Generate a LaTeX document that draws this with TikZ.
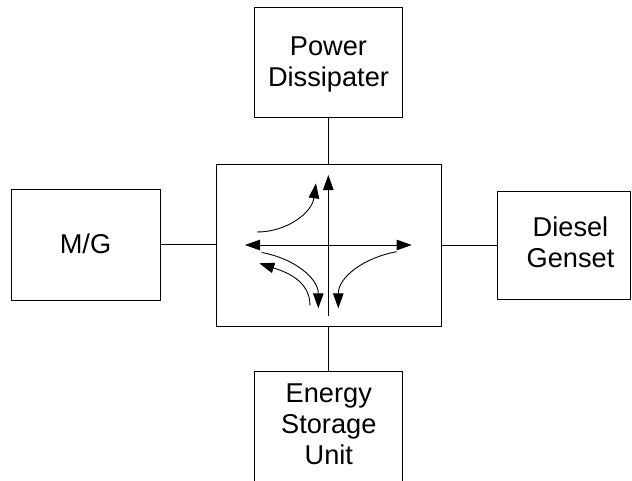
\documentclass[tikz,border=0pt]{standalone}
\usepackage{fontspec}
\setmainfont{Liberation Sans}
\usetikzlibrary{arrows.meta}
\begin{document}
\begin{tikzpicture}[x=1pt,y=-1pt,
  every path/.style={line width=0.9pt},
  box/.style={draw, line width=0.9pt, rectangle, inner sep=0pt},
  lbl/.style={anchor=base, inner sep=0pt, font=\fontsize{27.2}{31}\selectfont},
  tip/.style={-{Triangle[length=15pt,width=10.5pt]}},
  conn/.style={draw, line width=0.9pt}]
\useasboundingbox (0,0) rectangle (632,480);
% boxes
\node[box, minimum width=148pt, minimum height=110.4pt] (pd) at (328.3,62.5) {};
\node[box, minimum width=148.3pt, minimum height=110.7pt] (mg) at (85.85,244.65) {};
\node[box, minimum width=133.4pt, minimum height=108pt] (dg) at (564,245) {};
\node[box, minimum width=148pt, minimum height=120pt] (esu) at (328.3,431.7) {};
\node[box, minimum width=225pt, minimum height=162pt] (cv) at (328.5,245) {};
% labels
\node[lbl] (t1) at (328.5,55) {Power};
\node[lbl] (t2) at (328.5,86.7) {Dissipater};
\node[lbl] (t3) at (85.5,253.5) {M/G};
\node[lbl] (t4) at (570.5,236.7) {Diesel};
\node[lbl] (t5) at (570.5,267.7) {Genset};
\node[lbl] (t6) at (328.8,402.3) {Energy};
\node[lbl] (t7) at (328.8,433.3) {Storage};
\node[lbl] (t8) at (328.8,464.3) {Unit};
% connectors
\draw (pd.south) -- (pd.south |- cv.north);
\draw (esu.north) -- (esu.north |- cv.south);
\draw (mg.east) -- (mg.east -| cv.west);
\draw (dg.west) -- (dg.west -| cv.east);
% arrows inside converter
\coordinate (hl) at (245,245);
\coordinate (hr) at (411.7,245);
\coordinate (vb) at (328.3,315.7);
\coordinate (vt) at (328.3,175);
\draw[{Triangle[length=15pt,width=10.5pt]}-{Triangle[length=15pt,width=10.5pt]}] (hl) -- (hr);
\draw[tip] (vb) -- (vt);
\coordinate (a1s) at (257,232);
\coordinate (a1e) at (316,183.3);
\draw[tip] (a1s) to[out=0,in=262] (a1e);
\coordinate (a2s) at (261.7,252.5);
\coordinate (a2e) at (318.3,308.3);
\draw[tip] (a2s) to[out=-10,in=90] (a2e);
\coordinate (a3s) at (310,305.5);
\coordinate (a3e) at (259.3,263.3);
\draw[tip] (a3s) to[out=90,in=-18] (a3e);
\coordinate (a4s) at (396.7,251.7);
\coordinate (a4e) at (338.3,308.3);
\draw[tip] (a4s) to[out=190,in=90] (a4e);
\end{tikzpicture}
\end{document}
